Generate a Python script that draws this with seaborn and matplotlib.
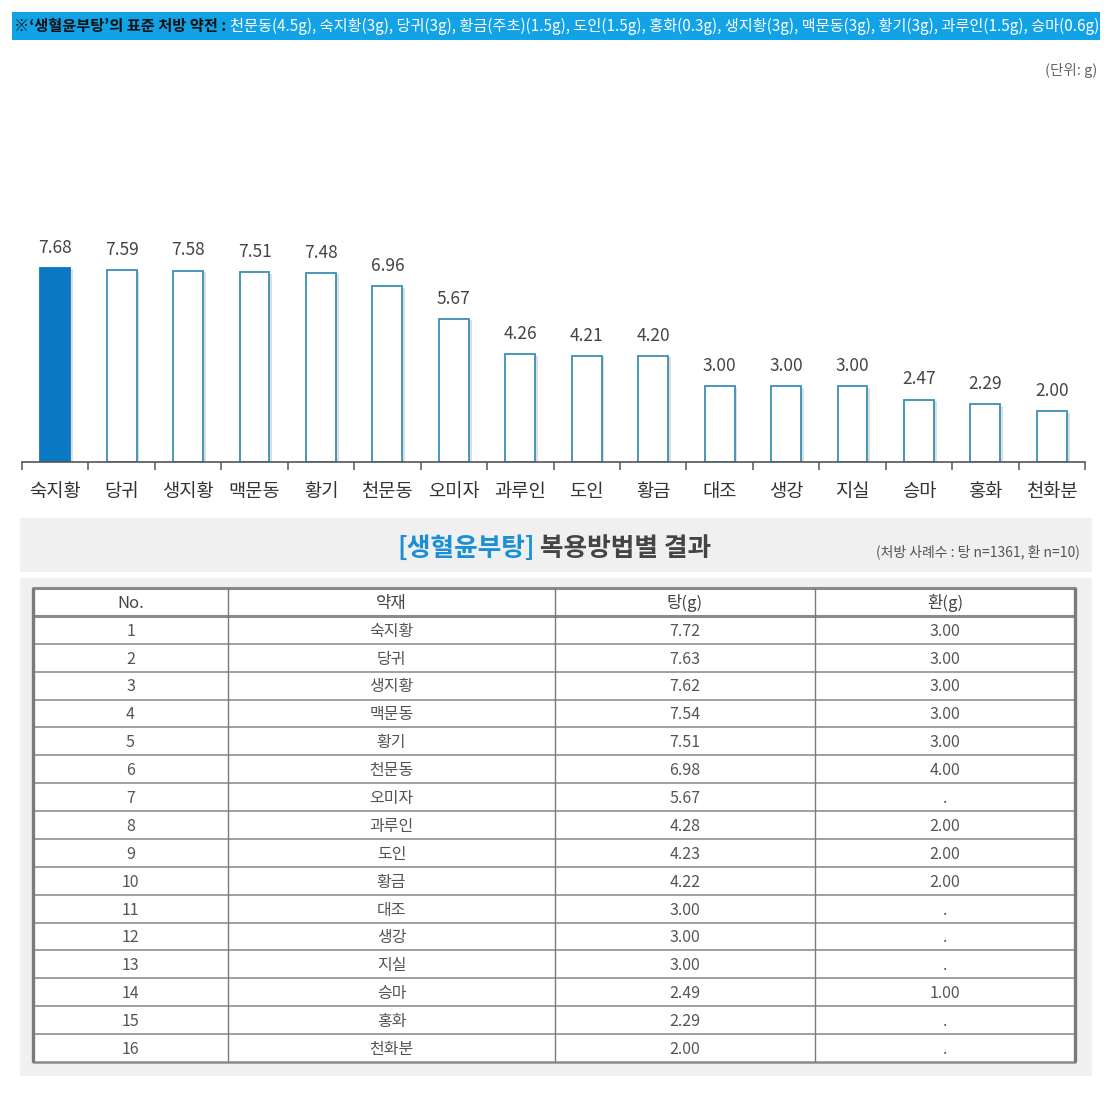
import matplotlib
matplotlib.use("Agg")
import matplotlib.pyplot as plt
import matplotlib.patheffects as pe
from matplotlib.patches import Rectangle
import seaborn as sns
import pandas as pd

# ---------------- data ----------------
herbs = ["숙지황", "당귀", "생지황", "맥문동", "황기", "천문동", "오미자", "과루인",
         "도인", "황금", "대조", "생강", "지실", "승마", "홍화", "천화분"]
avg_values = [7.68, 7.59, 7.58, 7.51, 7.48, 6.96, 5.67, 4.26,
              4.21, 4.20, 3.00, 3.00, 3.00, 2.47, 2.29, 2.00]
tang_values = ["7.72", "7.63", "7.62", "7.54", "7.51", "6.98", "5.67", "4.28",
               "4.23", "4.22", "3.00", "3.00", "3.00", "2.49", "2.29", "2.00"]
hwan_values = ["3.00", "3.00", "3.00", "3.00", "3.00", "4.00", ".", "2.00",
               "2.00", "2.00", ".", ".", ".", "1.00", ".", "."]
table_header = ["No.", "약재", "탕(g)", "환(g)"]
banner_head = "※‘생혈윤부탕’의 표준 처방 약전 : "
banner_body = ("천문동(4.5g), 숙지황(3g), 당귀(3g), 황금(주초)(1.5g), 도인(1.5g), "
               "홍화(0.3g), 생지황(3g), 맥문동(3g), 황기(3g), 과루인(1.5g), 승마(0.6g)")
unit_text = "(단위: g)"
title_blue = "[생혈윤부탕]"
title_rest = " 복용방법별 결과"
sample_note = "(처방 사례수 : 탕 n=1361, 환 n=10)"

# ---------------- style ----------------
sns.set_theme(style="white")
plt.rcParams['font.family'] = ['Noto Sans CJK KR', 'DejaVu Sans']

W, H = 1117, 1096
fig = plt.figure(figsize=(W / 100, H / 100), dpi=100)
fig.patch.set_facecolor("white")


def fx(x):
    return x / W


def fy(y):
    return 1 - y / H


def frect(x0, y0, x1, y1):
    return [fx(x0), fy(y1), fx(x1) - fx(x0), fy(y0) - fy(y1)]


def panel(x0, y0, x1, y1, color):
    fig.patches.append(Rectangle((fx(x0), fy(y1)), fx(x1) - fx(x0), fy(y0) - fy(y1),
                                 transform=fig.transFigure, facecolor=color,
                                 edgecolor="none", zorder=-5))


# ---------------- banner ----------------
panel(12, 12, 1100, 40, "#12a3e6")
renderer = fig.canvas.get_renderer()
fs = 11.0
t1 = fig.text(fx(14), fy(26), banner_head, fontsize=fs, fontweight="bold",
              color="#111111", va="center", ha="left")
bb = t1.get_window_extent(renderer)
t2 = fig.text(bb.x1 / W, fy(26), banner_body, fontsize=fs, color="white",
              va="center", ha="left", fontweight="medium")
bb2 = t2.get_window_extent(renderer)
total = bb2.x1 - fx(14) * W
scale = (1097 - 14) / total
fs2 = fs * scale
t1.set_fontsize(fs2)
bb = t1.get_window_extent(renderer)
t2.set_fontsize(fs2)
t2.set_x(bb.x1 / W)

fig.text(fx(1097), fy(70), unit_text, fontsize=10.5, color="#666666",
         ha="right", va="center")

# ---------------- bar chart ----------------
df = pd.DataFrame({"herb": herbs, "value": avg_values})
ax = fig.add_axes(frect(22, 130, 1085, 462))
fill_colors = ["#0a78c2"] + ["white"] * (len(herbs) - 1)
sns.barplot(data=df, x="herb", y="value", hue="herb", palette=fill_colors,
            legend=False, width=0.45, ax=ax, edgecolor="#3a8fb8", linewidth=1.3,
            saturation=1)
for i, p in enumerate(ax.patches):
    if i == 0:
        p.set_edgecolor("#0a78c2")
    p.set_path_effects([pe.SimplePatchShadow(offset=(2, -1), shadow_rgbFace="#b0b8be",
                                             alpha=0.45), pe.Normal()])
for i, v in enumerate(avg_values):
    ax.annotate(f"{v:.2f}", (i, v), xytext=(0, 8), textcoords="offset points",
                ha="center", va="bottom", fontsize=12.5, color="#444444")

ax.set_xlim(-0.5, len(herbs) - 0.5)
ax.set_ylim(0, 332 / 194 * 7.68)
ax.set_xlabel("")
ax.set_ylabel("")
ax.set_yticks([])
for s in ["top", "right", "left"]:
    ax.spines[s].set_visible(False)
ax.spines["bottom"].set_color("#555555")
ax.spines["bottom"].set_linewidth(1.2)
ax.set_xticks(range(len(herbs)))
ax.set_xticklabels(herbs, fontsize=13.5, color="#333333")
ax.set_xticks([i - 0.5 for i in range(len(herbs) + 1)], minor=True)
ax.tick_params(axis="x", which="major", length=0, pad=14)
ax.tick_params(axis="x", which="minor", length=6, width=1.1, color="#555555",
               direction="out", bottom=True)
ax.set_facecolor("none")

# ---------------- title panel ----------------
panel(20, 518, 1092, 572, "#f0f0f0")
tb = fig.text(fx(397), fy(548), title_blue, fontsize=18.5, fontweight="bold",
              color="#1a8fd6", ha="left", va="center")
bbt = tb.get_window_extent(renderer)
fig.text(bbt.x1 / W, fy(548), title_rest, fontsize=18.5, fontweight="bold",
         color="#444444", ha="left", va="center")
fig.text(fx(1080), fy(552), sample_note, fontsize=10, color="#555555",
         ha="right", va="center")

# ---------------- table panel ----------------
panel(20, 578, 1092, 1076, "#f0f0f0")
tax = fig.add_axes(frect(33, 588, 1075, 1062))
n_rows = len(herbs) + 1
tax.set_xlim(33, 1075)
tax.set_ylim(n_rows, 0)
tax.axis("off")
tax.add_patch(Rectangle((33, 0), 1075 - 33, n_rows, facecolor="white",
                        edgecolor="none", zorder=0))
col_edges = [33, 228, 555, 815, 1075]
col_centers = [(col_edges[i] + col_edges[i + 1]) / 2 for i in range(4)]

# horizontal lines
tax.axhline(0, color="#8a8a8a", lw=2.2, clip_on=False)
tax.axhline(1, color="#8a8a8a", lw=2.2)
for r in range(2, n_rows):
    tax.axhline(r, color="#8f8f8f", lw=1.2)
tax.axhline(n_rows, color="#8a8a8a", lw=1.8, clip_on=False)
# vertical lines
for j, xe in enumerate(col_edges):
    lw = 2.4 if j in (0, len(col_edges) - 1) else 1.0
    tax.plot([xe, xe], [0, n_rows], color="#7a7a7a", lw=lw, solid_capstyle="butt",
             clip_on=False)

for j, h in enumerate(table_header):
    tax.text(col_centers[j], 0.55, h, ha="center", va="center", fontsize=12,
             color="#444444", fontweight="medium")
for i in range(len(herbs)):
    row = [str(i + 1), herbs[i], tang_values[i], hwan_values[i]]
    for j, val in enumerate(row):
        tax.text(col_centers[j], i + 1.55, val, ha="center", va="center",
                 fontsize=11.5, color="#555555")

fig.savefig("out.png", dpi=100)
